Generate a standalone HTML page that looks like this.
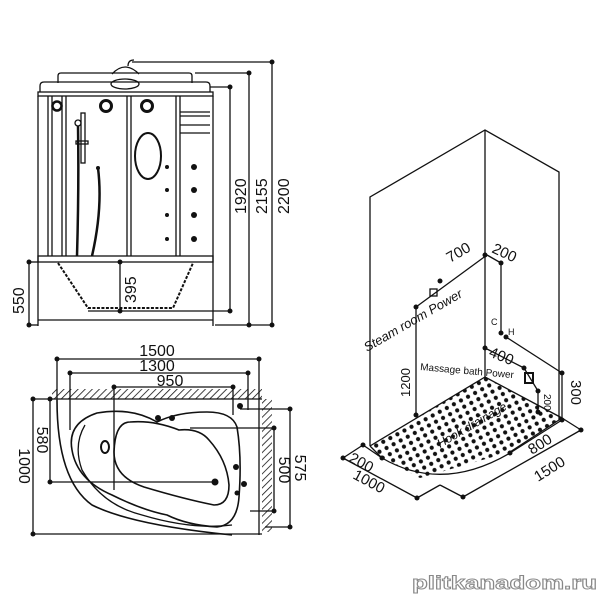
<!DOCTYPE html>
<html><head><meta charset="utf-8"><style>
html,body{margin:0;padding:0;background:#fff;width:600px;height:600px;overflow:hidden}
svg{display:block}
text{font-family:"Liberation Sans",sans-serif;fill:#111}
</style></head><body>
<svg width="600" height="600" viewBox="0 0 600 600" xmlns="http://www.w3.org/2000/svg">
<defs>
<pattern id="hatch" width="5" height="5" patternUnits="userSpaceOnUse" patternTransform="rotate(45)">
<line x1="0" y1="0" x2="0" y2="5" stroke="#111" stroke-width="1.6"/>
</pattern>
<pattern id="hearts" width="8" height="7" patternUnits="userSpaceOnUse" patternTransform="rotate(-28)">
<circle cx="3" cy="3" r="2.1" fill="#111"/>
</pattern>
</defs>
<g fill="none" stroke="#111" stroke-width="1.3">
<path d="M128,66 q0,-6 6,-6"/>
<path d="M112,74 q13,-14 27,0"/>
<ellipse cx="125" cy="84" rx="14" ry="5"/>
<path d="M58,83 v-7 q0,-3 3,-3 h128 q3,0 3,3 v7"/>
<path d="M40,92 v-6 q0,-4 4,-4 h162 q4,0 4,4 v6"/>
<rect x="38" y="92" width="175" height="4"/>
<line x1="38" y1="96" x2="38" y2="326"/>
<line x1="213" y1="96" x2="213" y2="326"/>
<line x1="48" y1="96" x2="48" y2="256"/>
<line x1="52" y1="96" x2="52" y2="256"/>
<line x1="62" y1="96" x2="62" y2="256"/>
<line x1="66" y1="96" x2="66" y2="256"/>
<line x1="127" y1="96" x2="127" y2="256"/>
<line x1="131" y1="96" x2="131" y2="256"/>
<line x1="176" y1="96" x2="176" y2="256"/>
<line x1="180" y1="96" x2="180" y2="256"/>
<line x1="180" y1="112" x2="210" y2="112"/>
<line x1="180" y1="116" x2="210" y2="116"/>
<line x1="180" y1="125" x2="210" y2="125"/>
<line x1="180" y1="133" x2="210" y2="133"/>
<rect x="38" y="256" width="175" height="6"/>
<line x1="38" y1="320" x2="213" y2="320"/>
<circle cx="57" cy="106" r="4.5" stroke-width="2.5"/>
<circle cx="106" cy="106" r="5.5" stroke-width="3"/>
<circle cx="147" cy="106" r="5.5" stroke-width="3"/>
<ellipse cx="148" cy="156" rx="13" ry="23" stroke-width="2"/>
<rect x="81" y="113" width="4" height="50"/>
<circle cx="78" cy="123" r="3"/>
<rect x="76" y="141" width="12" height="3"/>
<path d="M78,126 q1,60 -1,130" stroke-width="2.5"/>
<path d="M98,168 q5,40 -6,88" stroke-width="2.5"/>
<path d="M58,263 l30,45 h85 l20,-45" stroke-dasharray="3,1.5" stroke-width="2"/>
<line x1="132" y1="62" x2="272" y2="62"/><line x1="272" y1="62" x2="272" y2="325"/><line x1="215" y1="325" x2="272" y2="325"/>
<line x1="195" y1="73" x2="249" y2="73"/><line x1="249" y1="73" x2="249" y2="325"/>
<line x1="210" y1="87" x2="230" y2="87"/><line x1="230" y1="87" x2="230" y2="311"/><line x1="88" y1="311" x2="230" y2="311"/>
<line x1="29" y1="262" x2="29" y2="325"/><line x1="29" y1="262" x2="38" y2="262"/><line x1="29" y1="325" x2="38" y2="325"/>
<line x1="120" y1="262" x2="120" y2="311"/>
</g>
<g fill="#111">
<circle cx="272" cy="62" r="2.5"/><circle cx="272" cy="325" r="2.5"/><circle cx="249" cy="73" r="2.5"/><circle cx="249" cy="325" r="2.5"/>
<circle cx="230" cy="87" r="2.5"/><circle cx="230" cy="311" r="2.5"/><circle cx="29" cy="262" r="2.5"/><circle cx="29" cy="325" r="2.5"/>
<circle cx="120" cy="262" r="2.5"/><circle cx="120" cy="311" r="2.5"/>
<circle cx="167" cy="167" r="2"/><circle cx="167" cy="190" r="2"/><circle cx="167" cy="215" r="2"/><circle cx="167" cy="239" r="2"/>
<circle cx="194" cy="167" r="3"/><circle cx="194" cy="190" r="3"/><circle cx="194" cy="215" r="3"/><circle cx="194" cy="239" r="3"/>
<circle cx="98" cy="168" r="2"/>
</g>
<g font-size="16">
<text transform="translate(246,214) rotate(-90)">1920</text>
<text transform="translate(267,214) rotate(-90)">2155</text>
<text transform="translate(289,214) rotate(-90)">2200</text>
<text transform="translate(24,314) rotate(-90)">550</text>
<text transform="translate(136,303) rotate(-90)">395</text>
</g>

<rect x="52" y="389" width="210" height="10" fill="url(#hatch)"/>
<rect x="262" y="399" width="10" height="133" fill="url(#hatch)"/>
<g fill="none" stroke="#111" stroke-width="1.3">
<line x1="57" y1="359" x2="259" y2="359"/><line x1="57" y1="359" x2="57" y2="400"/><line x1="259" y1="359" x2="259" y2="535"/>
<line x1="70" y1="373" x2="248" y2="373"/><line x1="70" y1="373" x2="70" y2="430"/><line x1="248" y1="373" x2="248" y2="410"/>
<line x1="114" y1="387" x2="233" y2="387"/><line x1="114" y1="387" x2="114" y2="490"/><line x1="233" y1="387" x2="233" y2="415"/>
<line x1="33" y1="399" x2="262" y2="399"/><line x1="33" y1="399" x2="33" y2="534"/><line x1="33" y1="534" x2="262" y2="534"/>
<line x1="50" y1="399" x2="50" y2="482"/><line x1="50" y1="482" x2="215" y2="482"/>
<line x1="240" y1="409" x2="290" y2="409"/><line x1="290" y1="409" x2="290" y2="527"/><line x1="265" y1="527" x2="290" y2="527"/>
<line x1="190" y1="428" x2="274" y2="428"/><line x1="274" y1="428" x2="274" y2="511"/><line x1="250" y1="511" x2="274" y2="511"/>
<path d="M57,400 q0,80 35,105 q40,20 140,30" stroke-width="1.6"/>
<path d="M97,413 q-30,10 -25,37 q5,30 40,45 q30,15 55,20 q20,10 50,12 q20,-2 22,-30 q3,-40 -2,-70 q-5,-15 -30,-15 q-30,0 -50,10 q-25,-15 -60,-9z" stroke-width="1.6"/>
<path d="M130,422 q-15,0 -16,30 q0,25 30,35 q40,12 70,18 q15,0 15,-20 q-2,-25 -20,-45 q-10,-12 -30,-10 q-25,-10 -49,-8z" stroke-width="1.6"/>
<path d="M85,425 q-12,20 -3,45 q20,35 60,45 q50,15 90,10" />
<ellipse cx="105" cy="447" rx="4" ry="6" stroke-width="2"/>
</g>
<g fill="#111">
<circle cx="57" cy="359" r="2.5"/><circle cx="259" cy="359" r="2.5"/><circle cx="70" cy="373" r="2.5"/><circle cx="248" cy="373" r="2.5"/>
<circle cx="114" cy="387" r="2.5"/><circle cx="233" cy="387" r="2.5"/><circle cx="33" cy="399" r="2.5"/><circle cx="33" cy="534" r="2.5"/>
<circle cx="50" cy="399" r="2.5"/><circle cx="50" cy="482" r="2.5"/><circle cx="290" cy="409" r="2.5"/><circle cx="290" cy="527" r="2.5"/>
<circle cx="274" cy="428" r="2.5"/><circle cx="274" cy="511" r="2.5"/><circle cx="215" cy="482" r="3.5"/><circle cx="240" cy="406" r="3"/>
<circle cx="158" cy="418" r="3"/><circle cx="172" cy="418" r="3"/><circle cx="236" cy="467" r="3"/><circle cx="244" cy="484" r="3"/><circle cx="237" cy="493" r="2.5"/>
</g>
<g font-size="16" text-anchor="middle">
<text x="157" y="356">1500</text>
<text x="157" y="371">1300</text>
<text x="170" y="386">950</text>
<text transform="translate(19,466) rotate(90)">1000</text>
<text transform="translate(37,440) rotate(90)">580</text>
<text transform="translate(279,470) rotate(90)">500</text>
<text transform="translate(295,468) rotate(90)">575</text>
</g>

<polygon points="370,446 485,377 562,418 510,452 420,478 382,458" fill="url(#hearts)" stroke="none"/>
<g fill="none" stroke="#111" stroke-width="1.3">
<polyline points="370,446 370,197 485,130 559,172 559,420"/>
<line x1="485" y1="130" x2="485" y2="377"/>
<line x1="370" y1="446" x2="485" y2="377"/>
<line x1="485" y1="377" x2="562" y2="418"/>
<path d="M382,458 q60,35 128,-5"/>
<line x1="562" y1="418" x2="510" y2="452"/>
<line x1="382" y1="458" x2="370" y2="446"/>
<line x1="487" y1="255" x2="416" y2="307"/><line x1="416" y1="307" x2="416" y2="415"/>
<line x1="487" y1="255" x2="501" y2="263"/><line x1="501" y1="263" x2="501" y2="333"/>
<line x1="485" y1="348" x2="524" y2="368"/><line x1="524" y1="368" x2="538" y2="391"/><line x1="538" y1="391" x2="538" y2="412"/>
<line x1="506" y1="337" x2="562" y2="373"/><line x1="562" y1="373" x2="562" y2="420"/>
<rect x="430" y="289" width="7" height="7"/>
<rect x="525" y="373" width="8" height="10" stroke-width="2"/>
<line x1="343" y1="458" x2="417" y2="498"/><line x1="343" y1="458" x2="363" y2="445"/>
<line x1="363" y1="445" x2="382" y2="458"/>
<line x1="417" y1="498" x2="440" y2="485"/>
<line x1="463" y1="497" x2="581" y2="430"/><line x1="581" y1="430" x2="562" y2="418"/><line x1="463" y1="497" x2="440" y2="485"/>
<line x1="510" y1="453" x2="562" y2="420"/>
</g>
<g fill="#111">
<circle cx="485" cy="255" r="2.5"/><circle cx="501" cy="263" r="2.5"/><circle cx="416" cy="307" r="2.5"/><circle cx="440" cy="281" r="2.5"/><circle cx="416" cy="415" r="2.5"/>
<circle cx="501" cy="333" r="2.5"/><circle cx="506" cy="337" r="2.5"/><circle cx="485" cy="348" r="2.5"/><circle cx="524" cy="368" r="2.5"/><circle cx="538" cy="391" r="2.5"/><circle cx="538" cy="412" r="2.5"/>
<circle cx="562" cy="373" r="2.5"/><circle cx="562" cy="420" r="2.5"/><circle cx="343" cy="458" r="2.5"/><circle cx="363" cy="445" r="2.5"/><circle cx="382" cy="458" r="2.5"/>
<circle cx="417" cy="498" r="2.5"/><circle cx="463" cy="497" r="2.5"/><circle cx="581" cy="430" r="2.5"/><circle cx="510" cy="453" r="2.5"/>
</g>
<g font-size="15">
<text transform="translate(450,263) rotate(-30)">700</text>
<text transform="translate(491,252) rotate(25)">200</text>
<text transform="translate(367,352) rotate(-30)" font-size="13" font-style="italic">Steam room Power</text>
<text x="491" y="325" font-size="9">C</text><text x="508" y="335" font-size="9">H</text>
<text transform="translate(488,356) rotate(22)">400</text>
<text transform="translate(420,370) rotate(5)" font-size="10">Massage bath Power</text>
<text transform="translate(410,397) rotate(-90)" font-size="13">1200</text>
<text transform="translate(571,380) rotate(90)">300</text>
<text transform="translate(544,394) rotate(90)" font-size="10">200</text>
<text transform="translate(440,448) rotate(-30)" font-size="12" font-style="italic" fill="#777">Hook drainage</text>
<text transform="translate(532,455) rotate(-32)">800</text>
<text transform="translate(538,482) rotate(-32)">1500</text>
<text transform="translate(348,461) rotate(28)">200</text>
<text transform="translate(352,478) rotate(28)">1000</text>
</g>
<text x="412" y="589" font-size="18" font-weight="bold" textLength="185" lengthAdjust="spacingAndGlyphs" style="fill:#fff;stroke:#888;stroke-width:0.9">plitkanadom.ru</text>
</svg>
</body></html>
